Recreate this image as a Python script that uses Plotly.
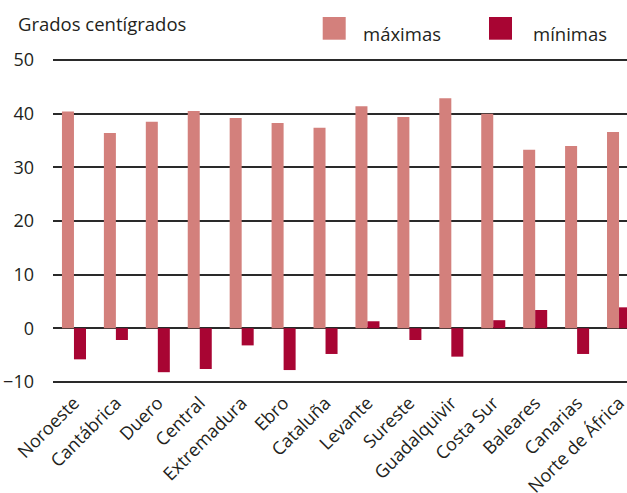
import plotly.graph_objects as go

categories = ["Noroeste", "Cantábrica", "Duero", "Central", "Extremadura", "Ebro",
              "Cataluña", "Levante", "Sureste", "Guadalquivir", "Costa Sur",
              "Baleares", "Canarias", "Norte de África"]
maximas = [40.4, 36.4, 38.5, 40.5, 39.2, 38.3, 37.4, 41.4, 39.4, 42.9, 40.0, 33.3, 34.0, 36.6]
minimas = [-5.8, -2.2, -8.2, -7.6, -3.2, -7.8, -4.8, 1.3, -2.2, -5.3, 1.5, 3.4, -4.8, 3.9]
y_ticks = [-10, 0, 10, 20, 30, 40, 50]

C_MAX = "#d3807c"
C_MIN = "#a80533"
FONT = "Open Sans"
TXT = "#231f20"

W, H = 627, 493
L, R, T = 53, 0, 58
ph = 326
B = H - T - ph
pw = W - L - R

def px(x):
    return (x - L) / pw

def py(y):
    return (H - B - y) / ph

fig = go.Figure()
fig.add_trace(go.Bar(x=categories, y=maximas, name="máximas", marker_color=C_MAX, marker_line_width=0))
fig.add_trace(go.Bar(x=categories, y=minimas, name="mínimas", marker_color=C_MIN, marker_line_width=0))

fig.update_layout(
    width=W, height=H,
    margin=dict(l=L, r=R, t=T, b=B, pad=0, autoexpand=False),
    paper_bgcolor="white", plot_bgcolor="white",
    barmode="group", bargap=0.427, bargroupgap=0,
    showlegend=False,
    font=dict(family=FONT, size=18, color=TXT),
    xaxis=dict(range=[-0.5, 13.19], tickangle=-45, showgrid=False, showline=False,
               zeroline=False, ticks="", automargin=False, ticklabelstandoff=4,
               tickfont=dict(size=18, color=TXT)),
    yaxis=dict(range=[-10.4, 50.4], tickvals=y_ticks, showgrid=True, gridcolor="#2a2a2a",
               gridwidth=2, zeroline=True, zerolinecolor="#2a2a2a", zerolinewidth=2,
               showline=False, ticks="", ticklabelstandoff=18, automargin=False,
               tickfont=dict(size=18, color=TXT)),
)

shapes = []
for x0, col in [(322.7, C_MAX), (489, C_MIN)]:
    shapes.append(dict(type="rect", xref="paper", yref="paper",
                       x0=px(x0), x1=px(x0 + 23), y0=py(39.7), y1=py(17),
                       fillcolor=col, line_width=0, layer="above"))
fig.update_layout(shapes=shapes)

anns = [
    dict(text="Grados centígrados", x=px(16), y=py(24)),
    dict(text="máximas", x=px(361), y=py(33)),
    dict(text="mínimas", x=px(531), y=py(33)),
]
for a in anns:
    fig.add_annotation(xref="paper", yref="paper", xanchor="left", yanchor="middle",
                       showarrow=False, font=dict(family=FONT, size=18.5, color=TXT), **a)

fig.write_html(
    "out.html",
    config={"displayModeBar": False, "staticPlot": True},
    post_script="document.body.style.margin='0';document.body.style.overflow='hidden';",
)
